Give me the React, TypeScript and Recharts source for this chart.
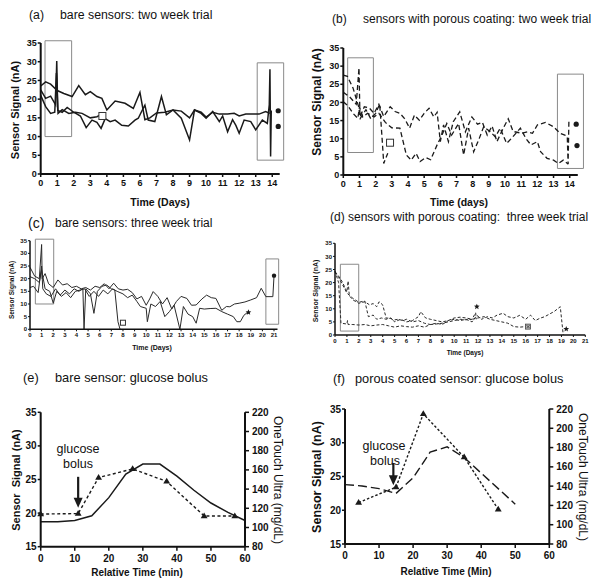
import React from "react"
import {
  ComposedChart,
  Line,
  Scatter,
  XAxis,
  YAxis,
  ReferenceArea,
  ReferenceLine,
} from "recharts"

const FONT = '"Liberation Sans", Arial, Helvetica, sans-serif'
const INK = "#1a1a1a"

// ---- tick labels ----
const days14 = [0, 1, 2, 3, 4, 5, 6, 7, 8, 9, 10, 11, 12, 13, 14]
const days21 = [0, 1, 2, 3, 4, 5, 6, 7, 8, 9, 10, 11, 12, 13, 14, 15, 16, 17, 18, 19, 20, 21]
const signalTicks = [0, 5, 10, 15, 20, 25, 30, 35]
const bolusSignalTicks = [15, 20, 25, 30, 35]
const glucoseTicks = [80, 100, 120, 140, 160, 180, 200, 220]
const minuteTicks = [0, 10, 20, 30, 40, 50, 60]

// ---- (a) bare sensors, two week trial: [day, nA] ----
const aSensor1 = [
  [0, 23.5], [0.3, 24.6], [0.6, 24], [1, 22.3], [1.4, 21.5], [1.9, 20.7], [2.3, 23.6], [2.7, 21.2],
  [3.0, 22], [3.4, 20.7], [3.7, 20.2], [4.0, 17.1], [4.5, 19.5], [5.1, 18.9], [5.6, 17.5], [6.0, 21.8],
  [6.3, 14.5], [6.6, 15], [7.0, 16.3], [7.5, 16.5], [8.0, 17.1], [8.5, 16.8], [9.0, 15], [9.3, 17.1],
  [9.7, 16.5], [10.0, 15.2], [10.4, 16.5], [10.8, 16], [11.3, 16], [11.7, 16.2], [12.0, 15.5],
  [12.4, 16], [12.8, 16], [13.2, 16], [13.6, 16.7], [13.85, 16.2],
]
const aSensor2 = [
  [0, 22.5], [0.3, 20.2], [0.6, 20.8], [0.9, 18.5], [0.97, 30.2], [1.03, 17], [1.3, 16.5], [1.6, 17.8],
  [2.0, 16.5], [2.4, 15.5], [2.75, 12.4], [3.1, 14.4], [3.4, 13.8], [3.65, 12.2], [3.9, 14.8], [4.2, 14],
  [4.5, 14.4], [4.9, 13], [5.3, 12.8], [5.7, 14.4], [5.9, 14.9], [6.1, 16.7], [6.3, 18.4], [6.5, 14.4],
  [6.9, 14], [7.3, 20.7], [7.6, 15.8], [8.0, 17.1], [8.5, 14.9], [9.0, 9.1], [9.3, 17.1], [9.7, 16.2],
  [10.0, 14.9], [10.4, 16.7], [10.8, 14], [11.0, 15.5], [11.3, 11.3], [11.6, 14.5], [11.8, 13],
  [12.0, 10.9], [12.3, 14.4], [12.7, 14], [13.0, 11.8], [13.4, 14.4], [13.7, 13.5], [13.82, 18.5],
  [13.86, 28], [13.9, 4.7], [13.94, 17],
]
const aSensor3 = [
  [0, 21], [0.3, 18], [0.6, 16.2], [0.85, 16.5], [0.95, 27], [1.05, 16.2], [1.3, 17.2], [1.7, 16.2],
  [2.1, 16.5], [2.5, 16.2], [3.0, 15], [3.4, 15.3], [3.7, 16],
]
const aFailed = [[3.73, 15.5]]
const aEnd = [[14.36, 16.9], [14.36, 12.7]]

// ---- (b) porous coating, two week trial ----
const bSensor1 = [
  [0, 22.8], [0.4, 21.5], [0.8, 19.5], [0.97, 29.5], [1.03, 16], [1.3, 18.8], [1.6, 18.5], [1.9, 17],
  [2.2, 19.5], [2.5, 16.1], [2.9, 18.8], [3.2, 17.5], [3.5, 17], [3.8, 15.5], [4.1, 12.9], [4.4, 16.5],
  [4.7, 15.1], [5.0, 17], [5.3, 18.4], [5.6, 16], [5.8, 17.3], [6.0, 9.2], [6.2, 13.8], [6.5, 9.2],
  [6.8, 14.7], [7.2, 17.4], [7.55, 11.9], [7.95, 16], [8.3, 14], [8.6, 14.5], [8.9, 11], [9.2, 13.5],
  [9.5, 9.2], [9.9, 13], [10.2, 15.5], [10.5, 12], [11.05, 11.5], [11.4, 11.9], [11.7, 11.5],
  [12.0, 13.8], [12.5, 14.5], [13.0, 13.3], [13.4, 11.5], [13.7, 11], [13.85, 10.6], [13.9, 3], [13.95, 15],
]
const bSensor2 = [
  [0, 20.2], [0.3, 19], [0.6, 17], [0.9, 15.6], [1.0, 18.8], [1.2, 16], [1.5, 17], [1.9, 16], [2.2, 17],
  [2.6, 14.5], [3.0, 13], [3.5, 12.9], [3.9, 5.5], [4.2, 4.1], [4.5, 6], [4.75, 3.7], [5.1, 4.8],
  [5.4, 4.2], [5.8, 8.3], [6.1, 11], [6.4, 14.2], [6.7, 11], [7.13, 14.2], [7.44, 5.5], [7.75, 12.9],
  [8.06, 6.4], [8.4, 10], [8.68, 13.3], [9.1, 11.9], [9.4, 10.5], [9.7, 12.9], [10.1, 8.7], [10.4, 10.1],
  [10.95, 12.9], [11.3, 10], [11.6, 8.3], [12.0, 9.2], [12.2, 6.4], [12.6, 4.6], [13.0, 4.1],
  [13.3, 3.2], [13.6, 4.1], [13.9, 3],
]
const bSensor3 = [
  [0, 27.5], [0.25, 27.2], [0.6, 24], [0.95, 18.8], [1.05, 15.6], [1.4, 18], [1.7, 15.5], [2.0, 17],
  [2.25, 19.5], [2.4, 10], [2.5, 3.2], [2.75, 6],
]
const bFailed = [[2.89, 8.9]]
const bEnd = [[14.4, 14], [14.45, 8.1]]

// ---- (c) bare sensors, three week trial ----
const cSensor1 = [
  [0, 24.5], [0.4, 21], [0.8, 20], [1.0, 33.5], [1.05, 20], [1.3, 22], [1.6, 18], [2.0, 16.5], [2.4, 19.5],
  [2.8, 17.5], [3.2, 18], [3.6, 16.5], [4.0, 17], [4.4, 16], [4.8, 16.5], [5.2, 15.5], [5.6, 17], [6.0, 16.5],
  [6.4, 18], [6.8, 16], [7.2, 18.2], [7.6, 16], [8.0, 15.5], [8.4, 15.8], [8.8, 14.5], [9.2, 12], [9.6, 13],
  [10.0, 9.5], [10.3, 12], [10.6, 14.9], [11.0, 13], [11.4, 10], [11.8, 12.5], [12.2, 8], [12.6, 11],
  [13.0, 13], [13.5, 12.2], [13.9, 9.5], [14.3, 9.6], [14.8, 12], [15.2, 13.5], [15.6, 12.5], [16.0, 12.2],
  [16.5, 7.5], [16.9, 9], [17.2, 8.9], [17.6, 10], [18.0, 10.3], [18.5, 10.8], [19.0, 11.6], [19.5, 12.5],
  [19.9, 16.2], [20.3, 12.9], [20.9, 12.9], [21.0, 21],
]
const cSensor2 = [
  [0, 20.8], [0.4, 20], [0.8, 18.5], [1.0, 23.5], [1.3, 16], [1.7, 15], [2.0, 10.3], [2.3, 15], [2.7, 13],
  [3.1, 14.5], [3.5, 12.5], [3.9, 15], [4.3, 15.5], [4.7, 16], [5.1, 13], [5.5, 15], [5.9, 13], [6.3, 15.5],
  [6.7, 14], [7.1, 16], [7.5, 15], [8.0, 14], [8.4, 12.5], [8.8, 13.5], [9.2, 11], [9.5, 9], [10.0, 8.3],
  [10.1, 3], [10.4, 10], [10.8, 9], [11.2, 11], [11.6, 5], [12.0, 7], [12.4, 9.5], [12.9, 0], [13.2, 9],
  [13.6, 6], [14.0, 5], [14.3, 2.4], [14.6, 8.3], [15.0, 8], [15.5, 8.2], [16.0, 8.3], [16.5, 7], [17.0, 6],
  [17.5, 5], [17.8, 3], [18.1, 3], [18.4, 5.5], [18.8, 7],
]
const cSensor3 = [
  [0, 16.5], [0.3, 17], [0.7, 14.5], [1.0, 25], [1.1, 16], [1.4, 14], [1.8, 13], [2.2, 16], [2.6, 13.5],
  [3.0, 15.5], [3.4, 14], [3.8, 16], [4.2, 15], [4.55, 16], [4.65, 0], [4.8, 16], [5.2, 14], [5.5, 6.3],
  [5.8, 15], [6.2, 17], [6.6, 17.5], [7.0, 16], [7.3, 15.5], [7.57, 3], [7.75, 0],
]
const cFailed = [[8, 2.6]]
const cStar = [[18.8, 6.7]]
const cEnd = [[21, 21.2]]

// ---- (d) porous coating, three week trial ----
const dSensor1 = [
  [0, 24.2], [0.3, 22.5], [0.6, 20.4], [1.0, 16.5], [1.1, 20.6], [1.2, 15], [1.5, 13.4], [2.0, 12.1],
  [2.5, 12.7], [2.9, 11.5], [3.2, 12], [3.5, 10.8], [3.7, 12.7], [4.0, 11.5], [4.3, 6.4], [4.6, 6.5],
  [4.9, 5.7], [5.3, 6], [5.7, 5.5], [6.0, 6], [6.5, 5], [7.0, 5.5], [7.5, 4.5], [8.0, 4], [8.5, 4.5],
  [9.0, 4], [9.5, 5.5], [10.0, 6], [10.5, 5.5], [11.0, 6], [11.5, 5], [11.9, 7.5], [12.3, 6], [12.8, 7],
  [13.2, 6.5], [13.6, 7.6], [14.1, 8.3], [14.5, 7], [15.0, 6.5], [15.5, 7.5], [16.0, 6], [16.4, 7.6],
  [16.8, 5.5], [17.2, 6.4], [17.6, 7], [18.0, 8], [18.4, 9], [18.9, 10.8], [19.15, 0],
]
const dSensor2 = [
  [0, 24], [0.3, 22], [0.6, 19.5], [1.0, 16], [1.5, 14], [2.0, 12.5], [2.5, 13], [2.8, 7], [3.2, 7.6],
  [3.5, 6], [3.9, 6.5], [4.3, 6], [4.7, 6.5], [5.0, 5], [5.5, 6], [6.0, 5], [6.5, 5.5], [7.0, 7],
  [7.2, 8.9], [7.6, 6.5], [8.0, 6], [8.5, 5.5], [9.0, 5], [9.5, 5.5], [10.0, 6.5], [10.5, 6.8], [11.0, 6.5],
  [11.5, 6], [12.0, 6.5], [12.5, 7], [13.0, 6], [13.5, 5.5], [14.0, 5], [14.5, 4.5], [15.0, 3.2],
  [15.5, 3], [16.0, 3.2],
]
const dSensor3 = [
  [0, 24.5], [0.3, 20], [0.5, 4.5], [1.0, 4.2], [1.05, 5.5], [1.1, 4], [1.5, 4], [2.0, 3.8], [2.5, 4],
  [3.0, 3.5], [3.5, 3.8], [4.0, 4], [4.5, 3.5], [5.0, 3], [5.5, 3.5], [6.0, 3.2], [6.5, 3], [7.0, 3.5],
  [7.5, 3], [8.0, 4], [8.5, 4.2], [9.0, 4.5], [9.5, 5], [10.0, 5.5], [10.5, 6], [11.0, 5.8], [11.5, 6],
  [11.8, 8.5], [11.85, 6],
]
const dFailed = [[16.2, 3.2]]
const dStars = [[11.9, 10.8], [19.4, 2.3]]

// ---- (e) bare sensor, glucose bolus: [min, nA] and [min, mg/dL] ----
const eSignal = [
  [0, 18.7], [5, 18.7], [10, 18.9], [15, 19.6], [20, 22.3], [25, 25.8], [30, 27.3], [35, 27.3],
  [40, 25.5], [45, 23.4], [50, 21.5], [55, 20.1], [60, 18.9],
]
const eOneTouch = [[0, 114], [11, 114.5], [17, 152], [27, 161], [37, 148], [48, 112], [57, 112]]

// ---- (f) porous coated sensor, glucose bolus ----
const fSignal = [
  [0, 23.8], [5, 23.6], [10, 23.2], [15, 22.5], [20, 24.8], [25, 28.6], [30, 29.4], [35, 27.8], [50, 20.9],
]
const fOneTouch = [[4, 123], [15, 139], [23, 215], [35, 170], [45, 116]]

const pts = (a: number[][]) => a.map(([t, v]) => ({ t, v }))

// ---- marker shapes ----
const dotShape = (r: number) => (p: any) => <circle cx={p.cx} cy={p.cy} r={r} fill={INK} />
const squareShape = (s: number) => (p: any) => (
  <rect x={p.cx - s / 2} y={p.cy - s / 2} width={s} height={s} fill="#fff" stroke="#333" strokeWidth={1} />
)
const crossSquareShape = (s: number) => (p: any) => (
  <g>
    <rect x={p.cx - s / 2} y={p.cy - s / 2} width={s} height={s} fill="#bbb" stroke="#444" strokeWidth={0.8} />
    <path d={`M${p.cx - 1.5},${p.cy - 1.5}L${p.cx + 1.5},${p.cy + 1.5}M${p.cx + 1.5},${p.cy - 1.5}L${p.cx - 1.5},${p.cy + 1.5}`} stroke="#222" strokeWidth={0.7} />
  </g>
)
const starShape = (r: number) => (p: any) => {
  const list: string[] = []
  for (let i = 0; i < 10; i++) {
    const a = -Math.PI / 2 + (i * Math.PI) / 5
    const rr = i % 2 === 0 ? r : r * 0.45
    list.push(`${p.cx + rr * Math.cos(a)},${p.cy + rr * Math.sin(a)}`)
  }
  return <polygon points={list.join(" ")} fill={INK} />
}
const triShape = (s: number) => (p: any) => (
  <polygon points={`${p.cx},${p.cy - s} ${p.cx - s * 0.95},${p.cy + s * 0.6} ${p.cx + s * 0.95},${p.cy + s * 0.6}`} fill={INK} />
)
const arrowShape = (p: any) => {
  const { x1, y1, x2, y2 } = p
  return (
    <g>
      <line x1={x1} y1={y1} x2={x2} y2={y2 - 8} stroke={INK} strokeWidth={2.2} />
      <polygon points={`${x2},${y2} ${x2 - 4.5},${y2 - 10} ${x2 + 4.5},${y2 - 10}`} fill={INK} />
    </g>
  )
}

const tk = (size: number, bold = true) => ({ fontSize: size, fontWeight: bold ? 700 : 400, fill: "#111", fontFamily: FONT })
const axisLine = (w: number) => ({ stroke: "#111", strokeWidth: w })

function T(props: { x: number; y: number; s: number; b?: boolean; mid?: boolean; rot?: number; children: React.ReactNode }) {
  const { x, y, s, b, mid, rot, children } = props
  const tr = rot ? `translate(-50%,-50%) rotate(${rot}deg)` : mid ? "translate(-50%,-50%)" : "translate(0,-50%)"
  return (
    <div
      style={{
        position: "absolute", left: x, top: y, fontSize: s, fontWeight: b ? 700 : 400, lineHeight: 1,
        whiteSpace: "pre", transform: tr, fontFamily: FONT, color: "#111",
      }}
    >
      {children}
    </div>
  )
}

const boxStyle = { fill: "none", stroke: "#8a8a8a", strokeWidth: 1, ifOverflow: "visible" as const }

export default function App() {
  return (
    <div style={{ position: "absolute", left: 0, top: 0, width: 600, height: 584, background: "#fff", overflow: "hidden" }}>
      {/* (a) */}
      <div style={{ position: "absolute", left: 0, top: 30 }}>
        <ComposedChart width={300} height={190} margin={{ top: 13, right: 20.3, bottom: 0, left: 0 }}>
          <XAxis type="number" dataKey="t" domain={[0, 14.45]} ticks={days14} interval={0} height={46}
            tick={tk(9)} tickSize={3} tickMargin={2.5} axisLine={axisLine(2)} tickLine={axisLine(1.5)} />
          <YAxis type="number" dataKey="v" domain={[0, 35]} ticks={signalTicks} interval={0} width={40.7}
            tick={tk(9)} tickSize={3} tickMargin={1} axisLine={axisLine(2)} tickLine={axisLine(1.5)} />
          <ReferenceArea x1={0.26} x2={1.87} y1={10} y2={35.6} {...boxStyle} />
          <ReferenceArea x1={13.09} x2={14.69} y1={3.7} y2={29.7} {...boxStyle} />
          <Line data={pts(aSensor3)} dataKey="v" stroke={INK} strokeWidth={1.5} dot={false} isAnimationActive={false} />
          <Line data={pts(aSensor2)} dataKey="v" stroke={INK} strokeWidth={1.5} dot={false} isAnimationActive={false} />
          <Line data={pts(aSensor1)} dataKey="v" stroke={INK} strokeWidth={1.5} dot={false} isAnimationActive={false} />
          <Scatter data={pts(aFailed)} shape={squareShape(7)} isAnimationActive={false} />
          <Scatter data={pts(aEnd)} shape={dotShape(2.6)} isAnimationActive={false} />
        </ComposedChart>
      </div>

      {/* (b) */}
      <div style={{ position: "absolute", left: 300, top: 30 }}>
        <ComposedChart width={300} height={190} margin={{ top: 18, right: 22.2, bottom: 0, left: 0 }}>
          <XAxis type="number" dataKey="t" domain={[0, 14.5]} ticks={days14} interval={0} height={45}
            tick={tk(9)} tickSize={3} tickMargin={2.5} axisLine={axisLine(2)} tickLine={axisLine(1.5)} />
          <YAxis type="number" dataKey="v" domain={[0, 35]} ticks={signalTicks} interval={0} width={43.3}
            tick={tk(9)} tickSize={3} tickMargin={1} axisLine={axisLine(2)} tickLine={axisLine(1.5)} />
          <ReferenceArea x1={0.27} x2={1.86} y1={6.2} y2={32.3} {...boxStyle} />
          <ReferenceArea x1={13.24} x2={14.85} y1={1.8} y2={27.8} {...boxStyle} />
          <Line data={pts(bSensor3)} dataKey="v" stroke={INK} strokeWidth={1.3} strokeDasharray="5 3" dot={false} isAnimationActive={false} />
          <Line data={pts(bSensor2)} dataKey="v" stroke={INK} strokeWidth={1.3} strokeDasharray="5 3" dot={false} isAnimationActive={false} />
          <Line data={pts(bSensor1)} dataKey="v" stroke={INK} strokeWidth={1.3} strokeDasharray="5 3" dot={false} isAnimationActive={false} />
          <Scatter data={pts(bFailed)} shape={squareShape(7)} isAnimationActive={false} />
          <Scatter data={pts(bEnd)} shape={dotShape(2.6)} isAnimationActive={false} />
        </ComposedChart>
      </div>

      {/* (c) */}
      <div style={{ position: "absolute", left: 0, top: 230 }}>
        <ComposedChart width={300} height={120} margin={{ top: 10.7, right: 22.5, bottom: 0, left: 0 }}>
          <XAxis type="number" dataKey="t" domain={[0, 21.3]} ticks={days21} interval={0} height={20.7}
            tick={tk(6)} tickSize={2} tickMargin={1.5} axisLine={axisLine(1.5)} tickLine={axisLine(1)} />
          <YAxis type="number" dataKey="v" domain={[0, 35]} ticks={signalTicks} interval={0} width={30}
            tick={tk(6)} tickSize={2} tickMargin={1} axisLine={axisLine(1.5)} tickLine={axisLine(1)} />
          <ReferenceArea x1={0.46} x2={2.04} y1={10} y2={35.6} {...boxStyle} />
          <ReferenceArea x1={20.3} x2={21.4} y1={2} y2={27.8} {...boxStyle} />
          <Line data={pts(cSensor3)} dataKey="v" stroke="#2a2a2a" strokeWidth={1} dot={false} isAnimationActive={false} />
          <Line data={pts(cSensor2)} dataKey="v" stroke="#2a2a2a" strokeWidth={1} dot={false} isAnimationActive={false} />
          <Line data={pts(cSensor1)} dataKey="v" stroke="#2a2a2a" strokeWidth={1} dot={false} isAnimationActive={false} />
          <Scatter data={pts(cFailed)} shape={squareShape(5)} isAnimationActive={false} />
          <Scatter data={pts(cStar)} shape={starShape(3)} isAnimationActive={false} />
          <Scatter data={pts(cEnd)} shape={dotShape(2.2)} isAnimationActive={false} />
        </ComposedChart>
      </div>

      {/* (d) */}
      <div style={{ position: "absolute", left: 300, top: 230 }}>
        <ComposedChart width={300} height={125} margin={{ top: 13.3, right: 14.7, bottom: 0, left: 0 }}>
          <XAxis type="number" dataKey="t" domain={[0, 21]} ticks={days21} interval={0} height={20}
            tick={tk(6)} tickSize={2} tickMargin={1.5} axisLine={axisLine(1.5)} tickLine={axisLine(1)} />
          <YAxis type="number" dataKey="v" domain={[0, 35]} ticks={signalTicks} interval={0} width={35}
            tick={tk(6)} tickSize={2} tickMargin={1} axisLine={axisLine(1.5)} tickLine={axisLine(1)} />
          <ReferenceArea x1={0.45} x2={1.99} y1={1.5} y2={27} {...boxStyle} />
          <Line data={pts(dSensor3)} dataKey="v" stroke="#2a2a2a" strokeWidth={1} strokeDasharray="3 2" dot={false} isAnimationActive={false} />
          <Line data={pts(dSensor2)} dataKey="v" stroke="#2a2a2a" strokeWidth={1} strokeDasharray="3 2" dot={false} isAnimationActive={false} />
          <Line data={pts(dSensor1)} dataKey="v" stroke="#2a2a2a" strokeWidth={1} strokeDasharray="3 2" dot={false} isAnimationActive={false} />
          <Scatter data={pts(dFailed)} shape={crossSquareShape(5)} isAnimationActive={false} />
          <Scatter data={pts(dStars)} shape={starShape(3)} isAnimationActive={false} />
        </ComposedChart>
      </div>

      {/* (e) */}
      <div style={{ position: "absolute", left: 0, top: 395 }}>
        <ComposedChart width={300} height={170} margin={{ top: 17.3, right: 0, bottom: 0, left: 0 }}>
          <XAxis type="number" dataKey="t" domain={[0, 60]} ticks={minuteTicks} interval={0} height={18.3}
            tick={tk(10)} tickSize={4} tickMargin={4} axisLine={axisLine(2)} tickLine={axisLine(1.5)} />
          <YAxis yAxisId="l" type="number" dataKey="v" domain={[15, 35]} ticks={bolusSignalTicks} interval={0} width={40.7}
            tick={tk(10)} tickSize={3} tickMargin={1} axisLine={axisLine(2)} tickLine={axisLine(1.5)} />
          <YAxis yAxisId="r" orientation="right" type="number" dataKey="v" domain={[80, 220]} ticks={glucoseTicks} interval={0} width={55}
            tick={tk(10)} tickSize={4} tickMargin={3} axisLine={axisLine(2)} tickLine={axisLine(1.5)} />
          <Line yAxisId="l" data={pts(eSignal)} dataKey="v" stroke={INK} strokeWidth={1.5} dot={false} isAnimationActive={false} />
          <Line yAxisId="r" data={pts(eOneTouch)} dataKey="v" stroke={INK} strokeWidth={1.4} strokeDasharray="3 2.5" dot={false} isAnimationActive={false} />
          <Scatter yAxisId="r" data={pts(eOneTouch)} shape={triShape(3.6)} isAnimationActive={false} />
          <ReferenceLine yAxisId="l" segment={[{ x: 11, y: 25.4 }, { x: 11, y: 20.8 }]} ifOverflow="visible" shape={arrowShape} />
        </ComposedChart>
      </div>

      {/* (f) */}
      <div style={{ position: "absolute", left: 300, top: 395 }}>
        <ComposedChart width={300} height={170} margin={{ top: 14, right: 0, bottom: 0, left: 0 }}>
          <XAxis type="number" dataKey="t" domain={[0, 60]} ticks={minuteTicks} interval={0} height={21}
            tick={tk(10)} tickSize={4} tickMargin={4} axisLine={axisLine(2)} tickLine={axisLine(1.5)} />
          <YAxis yAxisId="l" type="number" dataKey="v" domain={[15, 35]} ticks={bolusSignalTicks} interval={0} width={45}
            tick={tk(10)} tickSize={3} tickMargin={1} axisLine={axisLine(2)} tickLine={axisLine(1.5)} />
          <YAxis yAxisId="r" orientation="right" type="number" dataKey="v" domain={[80, 220]} ticks={glucoseTicks} interval={0} width={50.7}
            tick={tk(10)} tickSize={4} tickMargin={3} axisLine={axisLine(2)} tickLine={axisLine(1.5)} />
          <Line yAxisId="l" data={pts(fSignal)} dataKey="v" stroke={INK} strokeWidth={1.4} strokeDasharray="9 4" dot={false} isAnimationActive={false} />
          <Line yAxisId="r" data={pts(fOneTouch)} dataKey="v" stroke={INK} strokeWidth={1.4} strokeDasharray="2.5 2" dot={false} isAnimationActive={false} />
          <Scatter yAxisId="r" data={pts(fOneTouch)} shape={triShape(3.6)} isAnimationActive={false} />
          <ReferenceLine yAxisId="l" segment={[{ x: 14.2, y: 27.0 }, { x: 14.2, y: 23.7 }]} ifOverflow="visible" shape={arrowShape} />
        </ComposedChart>
      </div>

      {/* titles */}
      <T x={29} y={15} s={12.3}>(a)</T>
      <T x={60} y={15} s={12.3}>bare sensors: two week trial</T>
      <T x={332} y={19} s={12}>(b)</T>
      <T x={363} y={19} s={12}>sensors with porous coating: two week trial</T>
      <T x={28} y={223} s={14}>(c)</T>
      <T x={55} y={223} s={12}>bare sensors: three week trial</T>
      <T x={330} y={217} s={12}>(d) sensors with porous coating:  three week trial</T>
      <T x={23} y={378} s={12.8}>(e)</T>
      <T x={55} y={378} s={12.8}>bare sensor: glucose bolus</T>
      <T x={333} y={379} s={12.8}>(f)</T>
      <T x={355} y={379} s={12.8}>porous coated sensor: glucose bolus</T>

      {/* axis titles */}
      <T x={15} y={110} s={11} b rot={-90}>Sensor Signal (nA)</T>
      <T x={160} y={202} s={10.5} b mid>Time (Days)</T>
      <T x={317} y={102} s={12} b rot={-90}>Sensor Signal (nA)</T>
      <T x={459} y={202} s={10.5} b mid>Time (days)</T>
      <T x={12} y={290} s={6.5} b rot={-90}>Sensor Signal (nA)</T>
      <T x={152} y={347} s={7} b mid>Time (Days)</T>
      <T x={315} y={291} s={7} b rot={-90}>Sensor Signal (nA)</T>
      <T x={465} y={353} s={6.5} b mid>Time (Days)</T>
      <T x={16} y={480} s={11} b rot={-90}>Sensor  Signal (nA)</T>
      <T x={278} y={480} s={12} rot={90}>OneTouch Ultra (mg/dL)</T>
      <T x={137} y={573} s={10} b mid>Relative Time (min)</T>
      <T x={317} y={477} s={12.5} b rot={-90}>Sensor Signal (nA)</T>
      <T x={583} y={477} s={12} rot={90}>OneTouch Ultra (mg/dL)</T>
      <T x={446} y={572} s={10} b mid>Relative Time (Min)</T>

      {/* annotations */}
      <T x={78} y={449} s={12.5} mid>glucose</T>
      <T x={78} y={464} s={12.5} mid>bolus</T>
      <T x={384} y={446} s={12.5} mid>glucose</T>
      <T x={385} y={461} s={12.5} mid>bolus</T>
    </div>
  )
}
